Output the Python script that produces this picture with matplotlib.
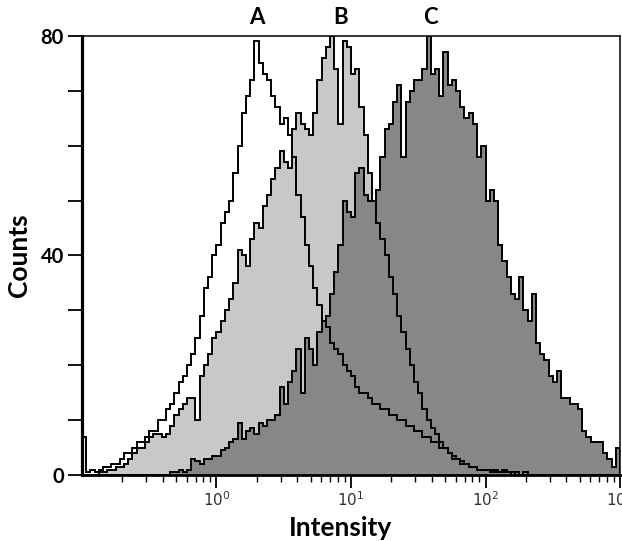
import numpy as np
import matplotlib
matplotlib.use("Agg")
import matplotlib.pyplot as plt

# Histogram counts, 128 log-spaced channels from 10^-1 to 10^3
counts_a = [7, 0.5, 1, 0.5, 1, 1.5, 1.5, 2, 2, 3,
            4, 4, 5, 6, 6, 7, 8, 8, 10, 10,
            12, 13, 15, 17, 18, 20, 22, 25, 29, 34,
            36, 40, 42, 46, 48, 50, 55, 60, 66, 69,
            72, 79, 75, 73, 72, 69, 67, 64, 65, 62,
            58, 51, 47, 42, 38, 34, 31, 28, 27, 24,
            23, 22, 20, 19, 18, 16, 15, 15, 14, 13,
            13, 12, 12, 11, 11, 10, 10, 9, 9, 8,
            8, 7, 7, 6, 6, 5, 5, 4, 3, 3,
            2, 2, 1.5, 1.5, 1, 1, 1, 1, 0.5, 0.5,
            1, 0.5, 0.5, 0.5, 0, 0.5, 0, 0, 0, 0,
            0, 0, 0, 0, 0, 0, 0, 0, 0, 0,
            0, 0, 0, 0, 0, 0, 0, 0]

counts_b = [0, 0, 0, 0, 0.5, 0.5, 1, 1, 1.5, 1.5,
            2, 3, 4, 5, 5, 6, 7, 7.5, 7.5, 7,
            7.5, 9, 11, 12, 13, 14, 14, 10, 18, 20,
            22, 25, 26, 28, 30, 32, 35, 41, 40, 38,
            43, 46, 45, 49, 51, 54, 56, 59, 57, 56,
            63, 66, 64, 63, 62, 66, 72, 76, 78, 80,
            74, 64, 79, 78, 73, 74, 67, 62, 55, 50,
            46, 43, 40, 36, 33, 29, 26, 23, 20, 17,
            15, 12, 10, 8.5, 7.5, 6, 5, 4, 3.5, 3,
            2.5, 2, 1.5, 1.5, 1, 1, 1, 0.5, 1, 0.5,
            0.5, 0.5, 0, 0.5, 0, 0.5, 0, 0, 0, 0,
            0, 0, 0, 0, 0, 0, 0, 0, 0, 0,
            0, 0, 0, 0, 0, 0, 0, 0]

counts_c = [0, 0, 0, 0, 0, 0, 0, 0, 0, 0,
            0, 0, 0, 0, 0, 0, 0, 0, 0, 0,
            0, 0.5, 0.5, 1, 0.5, 1, 3, 2.5, 2, 3,
            3, 3.5, 3.5, 4.5, 5, 6, 6.5, 9.5, 6.5, 8,
            8.5, 7.5, 9.5, 9, 10, 10, 11, 16, 13, 17,
            19, 23, 15, 25, 23, 20, 26, 28, 29, 33,
            37, 42, 50, 48, 47, 55, 56, 51, 50, 50,
            52, 58, 63, 64, 68, 71, 58, 68, 70, 72,
            72, 74, 80, 73, 74, 69, 77, 71, 72, 70,
            67, 65, 66, 64, 58, 60, 50, 52, 50, 42,
            39, 36, 33, 32, 36, 30, 28, 33, 24, 22,
            21, 18, 17, 19, 14, 14, 13, 13, 12, 8,
            7, 6, 6, 6, 4, 3, 1.5, 5]

peak_labels = ['A', 'B', 'C']
peak_pos = [2.0, 8.4, 39]

edges = np.logspace(-1, 3, len(counts_a) + 1)

plt.rcParams['font.family'] = ['Liberation Sans', 'DejaVu Sans']

fig = plt.figure(figsize=(6.22, 5.41), dpi=100)
ax = fig.add_axes([0.1318, 0.122, 0.865, 0.8115])

# fills first, darker ones on top
ax.stairs(counts_a, edges, fill=True, color='white')
ax.stairs(counts_b, edges, fill=True, color='#c8c8c8')
ax.stairs(counts_c, edges, fill=True, color='#878787')
# outlines over everything
for c in [counts_a, counts_b, counts_c]:
    ax.stairs(c, edges, color='black', linewidth=1.4, baseline=0)

ax.set_xscale('log')
ax.set_xlim(0.1, 1000)
ax.set_ylim(0, 80)

ax.set_xticks([1, 10, 100, 1000])
ax.set_xticklabels([r'$10^0$', r'$10^1$', r'$10^2$', r'$10^3$'])
ax.set_yticks(np.arange(0, 81, 10))
ax.set_yticklabels(['0', '', '', '', '40', '', '', '', '80'],
                   fontweight='bold', fontsize=14.5, family='Lato')

ax.tick_params(axis='x', which='major', length=9, width=1.3, labelsize=11,
               labelcolor='#333333', pad=2)
ax.tick_params(axis='x', which='minor', length=5, width=1.0)
ax.tick_params(axis='y', length=10, width=1.3, pad=3)

ax.spines['left'].set_linewidth(2.3)
ax.spines['bottom'].set_linewidth(2.0)
ax.spines['top'].set_linewidth(1.1)
ax.spines['right'].set_linewidth(1.1)

ax.set_xlabel('Intensity', fontsize=19, fontweight='bold', family='Lato', labelpad=5)
ax.xaxis.label.set_x(0.481)
ax.set_ylabel('Counts', fontsize=19, fontweight='bold', family='Lato', labelpad=7)

for lab, xp in zip(peak_labels, peak_pos):
    ax.text(xp, 81.5, lab, ha='center', va='bottom', fontsize=16, fontweight='bold',
            family='Lato')

fig.savefig('out.png', dpi=100)
